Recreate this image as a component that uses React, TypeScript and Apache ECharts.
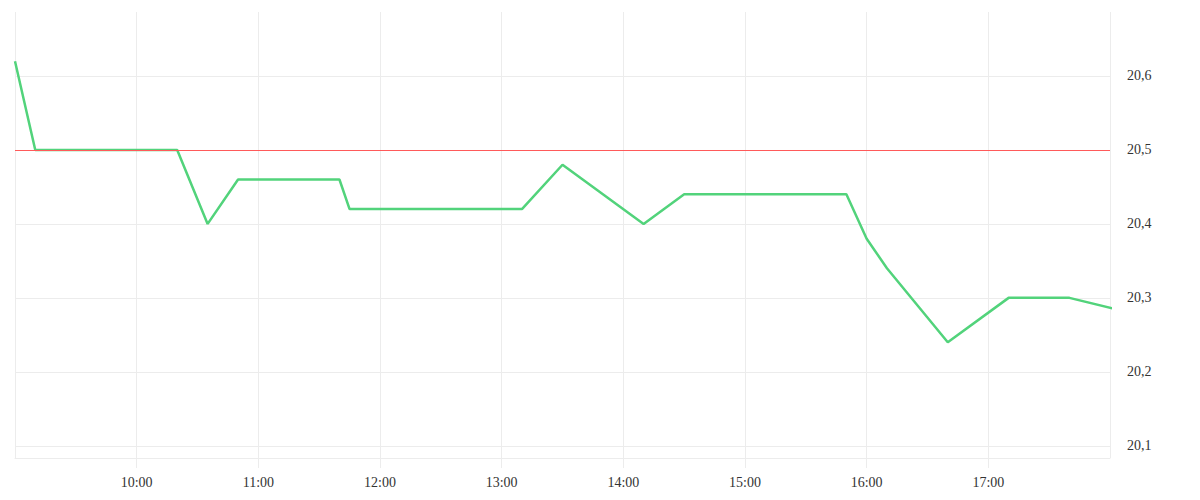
import React, { useEffect, useRef } from "react";
import * as echarts from "echarts";

const times = [
  "09:00", "09:10", "10:20", "10:35", "10:50", "11:40", "11:45", "13:10", "13:30",
  "14:10", "14:30", "15:50", "16:00", "16:10", "16:40", "17:10", "17:40", "18:10",
];
const values = [
  20.62, 20.5, 20.5, 20.4, 20.46, 20.46, 20.42, 20.42, 20.48,
  20.4, 20.44, 20.44, 20.38, 20.34, 20.24, 20.3, 20.3, 20.28,
];
const referenceLevel = 20.5;
const xStart = "09:00";
const xEnd = "18:00";
const yMin = 20.0835;
const yMax = 20.6865;

const toMinutes = (t: string) => {
  const [h, m] = t.split(":").map(Number);
  return h * 60 + m;
};

export default function App() {
  const ref = useRef<HTMLDivElement>(null);
  useEffect(() => {
    if (!ref.current) return;
    const chart = echarts.init(ref.current, undefined, { renderer: "svg" });
    const font = "Liberation Serif";
    const gridColor = "#ececec";
    chart.setOption({
      animation: false,
      backgroundColor: "#ffffff",
      grid: { left: 15, right: 90, top: 12, bottom: 42 },
      xAxis: {
        type: "value",
        min: toMinutes(xStart),
        max: toMinutes(xEnd),
        interval: 60,
        axisLine: { show: true, lineStyle: { color: gridColor, width: 1 } },
        axisTick: { show: true, length: 10, lineStyle: { color: gridColor } },
        splitLine: { show: true, lineStyle: { color: gridColor, width: 1 } },
        axisLabel: {
          showMinLabel: false,
          showMaxLabel: false,
          margin: 17,
          color: "#333",
          fontFamily: font,
          fontSize: 14,
          formatter: (v: number) => `${Math.floor(v / 60)}:${String(v % 60).padStart(2, "0")}`,
        },
      },
      yAxis: {
        type: "value",
        position: "right",
        min: yMin,
        max: yMax,
        splitNumber: 5,
        axisLine: { show: false },
        axisTick: { show: false },
        splitLine: {
          show: true,
          showMinLine: false,
          showMaxLine: false,
          lineStyle: { color: gridColor, width: 1 },
        },
        axisLabel: {
          showMinLabel: false,
          showMaxLabel: false,
          margin: 17,
          color: "#333",
          fontFamily: font,
          fontSize: 14,
          formatter: (v: number) => v.toFixed(1).replace(".", ","),
        },
      },
      series: [
        {
          type: "line",
          data: times.map((t, i) => [toMinutes(t), values[i]]),
          showSymbol: false,
          symbol: "none",
          clip: true,
          lineStyle: { color: "#52d37b", width: 2.5 },
          itemStyle: { color: "#52d37b" },
          markLine: {
            silent: true,
            symbol: ["none", "none"],
            label: { show: false },
            lineStyle: { color: "#ff5a5a", width: 1, type: "solid" },
            data: [{ yAxis: referenceLevel }],
          },
        },
      ],
    });
    return () => chart.dispose();
  }, []);
  return (
    <div
      ref={ref}
      style={{ position: "absolute", left: 0, top: 0, width: 1200, height: 500 }}
    />
  );
}
